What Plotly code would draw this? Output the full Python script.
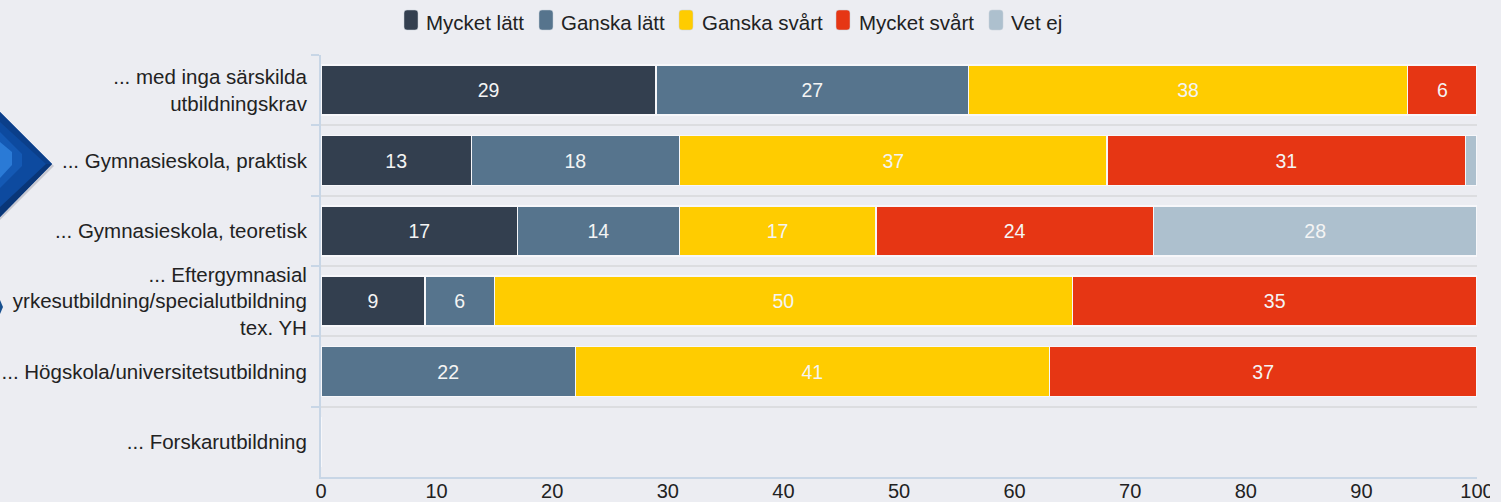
import plotly.graph_objects as go

categories = ["... med inga särskilda<br>utbildningskrav", "... Gymnasieskola, praktisk",
              "... Gymnasieskola, teoretisk",
              "... Eftergymnasial<br>yrkesutbildning/specialutbildning<br>tex. YH",
              "... Högskola/universitetsutbildning", "... Forskarutbildning"]
mycket_latt = [29, 13, 17, 9, 0, 0]
ganska_latt = [27, 18, 14, 6, 22, 0]
ganska_svart = [38, 37, 17, 50, 41, 0]
mycket_svart = [6, 31, 24, 35, 37, 0]
vet_ej = [0, 1, 28, 0, 0, 0]
series_names = ["Mycket lätt", "Ganska lätt", "Ganska svårt", "Mycket svårt", "Vet ej"]
series_colors = ["#333f4f", "#56748d", "#ffcc00", "#e63614", "#adc0ce"]
x_ticks = [0, 10, 20, 30, 40, 50, 60, 70, 80, 90, 100]

W, H = 1501, 502
L, R, T, B = 321, 1477, 55, 477
FONT = "Liberation Sans, Arial, sans-serif"
BG = "#ecedf2"

def px(x): return (x - L) / (R - L)
def py(y): return (B - y) / (B - T)

fig = go.Figure()
for name, vals, col in zip(series_names, [mycket_latt, ganska_latt, ganska_svart, mycket_svart, vet_ej], series_colors):
    fig.add_bar(y=categories, x=vals, name=name, orientation="h",
                marker=dict(color=col, line=dict(color="#f7f7fa", width=1.5)),
                text=[str(v) if v > 1 else "" for v in vals], textposition="inside",
                insidetextanchor="middle", constraintext="none",
                textangle=0,
                textfont=dict(family=FONT, size=19.5, color="#f4f4f4"), showlegend=False)

shapes, annotations = [], []
# legend swatches + labels (tall rounded swatches as in the reference)
legend_swatch_x = [404, 539, 679, 836, 989]
legend_text_x = [426, 561, 702, 859, 1011]
for sx, tx, name, col in zip(legend_swatch_x, legend_text_x, series_names, series_colors):
    x0, x1, y0, y1 = px(sx), px(sx + 14), py(10), py(30)
    rx, ry = 3 / (R - L), 3 / (B - T)
    path = (f"M{x0+rx},{y0} L{x1-rx},{y0} Q{x1},{y0} {x1},{y0-ry} L{x1},{y1+ry} Q{x1},{y1} {x1-rx},{y1} "
            f"L{x0+rx},{y1} Q{x0},{y1} {x0},{y1+ry} L{x0},{y0-ry} Q{x0},{y0} {x0+rx},{y0} Z")
    shapes.append(dict(type="path", xref="paper", yref="paper", path=path, fillcolor=col,
                       line=dict(color="#c8d0da", width=0.5), layer="above"))
    annotations.append(dict(xref="paper", yref="paper", x=px(tx), y=py(22), text=name, showarrow=False,
                            xanchor="left", yanchor="middle", xshift=-2,
                            font=dict(family=FONT, size=20.5, color="#222222")))

# decorative blue arrow heads at the left edge
def poly(points, color, opacity=1):
    p = "M" + " L".join(f"{px(x)},{py(y)}" for x, y in points) + " Z"
    shapes.append(dict(type="path", xref="paper", yref="paper", path=p, fillcolor=color,
                       opacity=opacity, line=dict(width=0), layer="above"))

poly([(0, 114), (54, 166), (0, 220)], "#9a9aa6", 0.45)
poly([(0, 112), (52, 164), (0, 217)], "#0d4a9f")
poly([(0, 112), (52, 164), (46, 164), (0, 122)], "#0b3f8a")
poly([(0, 217), (52, 164), (46, 164), (0, 207)], "#093678")
poly([(0, 132), (22, 154), (22, 166), (0, 188)], "#1459b4")
poly([(0, 142), (12, 152), (12, 165), (0, 178)], "#2a7ad6")
poly([(0, 300), (3, 307), (0, 314)], "#17508f")
# the reference cuts the "100" tick label off at its right edge
shapes.append(dict(type="rect", xref="paper", yref="paper", x0=px(1490), x1=px(1501), y0=py(502), y1=py(480),
                   fillcolor=BG, line=dict(width=0), layer="above"))

fig.update_layout(
    width=W, height=H, barmode="stack", bargap=0.29,
    paper_bgcolor=BG, plot_bgcolor=BG, showlegend=False,
    margin=dict(l=L, r=W - R, t=T, b=H - B, pad=0, autoexpand=False),
    shapes=shapes, annotations=annotations,
    font=dict(family=FONT, size=20, color="#222222"),
    xaxis=dict(range=[0, 100], tickvals=x_ticks, showgrid=False, zeroline=False, ticks="", ticklen=0,
               ticklabelstandoff=-5,
               showline=True, linecolor="#c8d6e6", linewidth=2, automargin=False,
               tickfont=dict(family=FONT, size=20, color="#222222")),
    yaxis=dict(categoryorder="array", categoryarray=categories, autorange="reversed",
               tickson="boundaries", showgrid=True, gridcolor="#dcdde0", gridwidth=2,
               ticks="outside", ticklen=8, tickwidth=2, tickcolor="#c8d6e6", ticklabelstandoff=8,
               showline=True, linecolor="#c8d6e6", linewidth=2, zeroline=False, automargin=False,
               tickfont=dict(family=FONT, size=20.5, color="#222222")),
)
fig.write_html("out.html", config=dict(displayModeBar=False),
               post_script="document.documentElement.style.background='#ecedf2';document.body.style.margin='0';")
